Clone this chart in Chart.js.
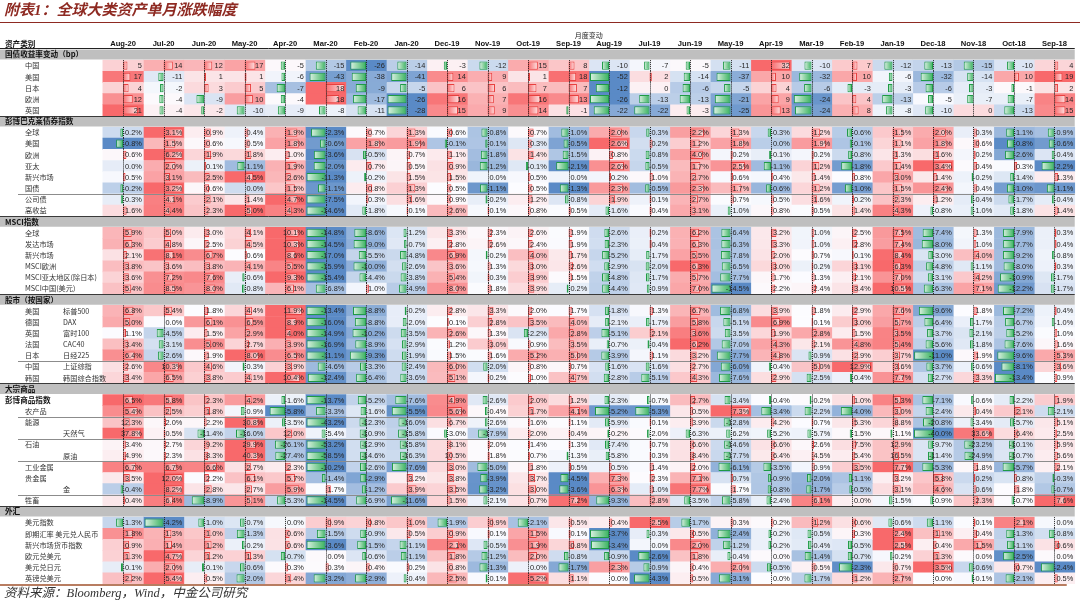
<!DOCTYPE html>
<html>
<head>
<meta charset="utf-8">
<script src="https://cdn.jsdelivr.net/npm/chart.js@4.4.1/dist/chart.umd.min.js"></script>
<style>
html,body{margin:0;padding:0;background:#fff;}
#wrap{width:1080px;height:603px;position:relative;overflow:hidden;}
</style>
</head>
<body>
<div id="wrap"><canvas id="c" width="1080" height="603"></canvas></div>
<script>
// ---------- column (month) labels ----------
const months = ['Aug-20','Jul-20','Jun-20','May-20','Apr-20','Mar-20','Feb-20','Jan-20','Dec-19','Nov-19','Oct-19','Sep-19','Aug-19','Jul-19','Jun-19','May-19','Apr-19','Mar-19','Feb-19','Jan-19','Dec-18','Nov-18','Oct-18','Sep-18'];

// ---------- 国债收益率变动（bp） ----------
const yldCN = [5,14,12,17,-5,-15,-26,-14,-3,-12,15,8,-10,-7,-5,-11,32,-10,7,-12,-13,-15,-10,4];
const yldUS = [17,-11,1,1,-6,-43,-38,-41,14,9,1,18,-52,2,-14,-37,10,-32,10,-6,-32,-14,10,19];
const yldJP = [4,-2,3,5,-7,18,-9,-5,6,6,7,7,-12,0,-6,-5,4,-6,-3,-3,-6,-3,-1,2];
const yldEU = [12,-4,-9,10,-4,18,-17,-26,16,7,16,13,-26,-13,-13,-21,9,-24,4,-13,-5,-7,-7,14];
const yldUK = [21,-4,-2,-10,-9,-8,-11,-28,15,9,14,-1,-22,-22,-3,-25,13,-24,8,-8,-10,0,-13,15];

// ---------- 彭博巴克莱债券指数 (%) ----------
const bbgGlobal = [-0.2,3.1,0.9,0.4,1.9,-2.3,0.7,1.3,0.6,-0.8,0.7,-1.0,2.0,-0.3,2.2,1.3,-0.3,1.2,-0.6,1.5,2.0,0.3,-1.1,-0.9];
const bbgUS     = [-0.8,1.5,0.6,0.5,1.8,-0.6,1.8,1.9,-0.1,-0.1,0.3,-0.5,2.6,0.2,1.2,1.8,0.0,1.9,-0.1,1.1,1.8,0.6,-0.8,-0.6];
const bbgEU     = [0.6,6.2,1.9,1.8,1.0,-3.6,-0.5,0.7,1.1,-1.8,1.4,-1.5,0.8,-0.8,4.0,0.2,-0.1,0.2,-0.8,1.3,1.6,0.2,-2.6,-0.4];
const bbgAP     = [0.0,2.0,0.1,-1.1,1.9,-2.0,0.7,0.5,0.9,-1.2,-0.1,-2.1,2.6,-0.5,1.7,2.5,-1.1,1.2,-1.8,1.4,3.4,0.4,0.3,-2.2];
const bbgEM     = [0.5,3.1,2.5,4.5,2.6,-11.3,-0.2,1.5,1.5,0.0,0.5,0.0,0.2,1.0,2.7,0.6,0.4,1.4,0.8,3.0,1.4,-0.2,-1.4,1.3];
const bbgGov    = [-0.2,3.2,0.6,0.0,1.5,-1.1,0.8,1.3,0.5,-1.1,0.5,-1.3,2.3,-0.5,2.3,1.7,-0.6,1.2,-1.0,1.5,2.4,0.4,-1.0,-1.1];
const bbgCorp   = [-0.3,4.1,2.1,1.4,4.7,-7.5,0.3,1.6,0.9,-0.2,1.2,-0.8,1.9,0.1,2.7,0.7,0.5,1.6,0.2,2.3,1.2,-0.4,-1.7,-0.4];
const bbgHY     = [1.6,4.4,2.3,5.0,4.3,-14.6,-1.8,0.1,2.6,0.1,0.8,0.5,-1.6,0.4,3.1,-1.0,0.8,0.5,1.4,4.3,-0.8,-1.0,-1.8,1.4];

// ---------- MSCI指数 (%) ----------
const msciACWI = [5.9,5.0,3.0,4.1,10.1,-14.8,-8.6,-1.2,3.3,2.3,2.6,1.9,-2.6,0.2,6.2,-6.4,3.2,1.0,2.5,7.5,-7.4,1.3,-7.9,0.3];
const msciDM   = [6.3,4.8,2.5,4.5,10.3,-14.5,-9.0,-0.7,2.8,2.6,2.4,1.9,-2.3,0.4,6.3,-6.3,3.3,1.0,2.8,7.4,-8.0,1.0,-7.7,0.4];
const msciEM   = [2.1,8.1,6.7,0.6,8.6,-17.0,-5.5,-4.8,6.9,-0.2,4.0,1.7,-5.2,-1.7,5.5,-7.8,2.0,0.7,0.1,8.4,-3.0,4.0,-9.2,-0.8];
const msciEU   = [3.8,3.6,3.8,4.1,5.5,-15.9,-10.0,-2.6,3.6,1.3,3.0,2.6,-2.9,-2.0,6.3,-6.5,3.0,0.2,3.1,6.3,-4.8,-1.1,-8.0,0.3];
const msciAPxJ = [3.6,7.2,7.6,-0.6,9.3,-15.4,-4.4,-3.8,5.4,0.3,3.9,1.5,-4.8,-1.7,5.7,-7.7,1.7,1.3,2.1,7.0,-3.1,4.2,-10.9,-1.7];
const msciCN   = [5.4,8.5,8.0,-0.8,6.1,-6.8,1.0,-4.9,8.0,1.8,3.9,-0.2,-4.4,-0.9,7.0,-14.5,2.2,2.4,3.4,10.5,-6.3,7.1,-12.2,-1.7];

// ---------- 股市（按国家） (%) ----------
const spx    = [6.8,5.4,1.8,4.4,11.9,-13.4,-8.8,-0.2,2.8,3.3,2.0,1.7,-1.8,1.3,6.7,-6.8,3.9,1.8,2.9,7.6,-9.6,1.8,-7.2,0.4];
const dax    = [5.0,0.0,6.1,6.5,8.9,-16.0,-8.8,-2.0,0.1,2.8,3.5,4.0,-2.1,-1.7,5.8,-5.1,6.9,0.1,3.0,5.7,-6.4,-1.7,-6.7,-1.0];
const ftse   = [1.1,-4.5,1.5,2.9,4.0,-14.9,-10.2,-3.5,2.6,1.3,-2.2,2.8,-5.1,2.1,3.6,-3.5,1.9,2.8,1.5,3.5,-3.7,-2.1,-5.2,1.0];
const cac    = [3.4,-3.1,5.0,2.7,3.9,-16.9,-8.9,-2.9,1.2,3.0,0.9,3.5,-0.7,-0.4,6.2,-7.0,4.3,2.1,4.8,5.4,-5.6,-1.8,-7.6,1.6];
const nikkei = [6.4,-2.6,1.9,8.0,6.5,-11.1,-9.3,-1.9,1.5,1.6,5.2,5.0,-3.9,1.1,3.2,-7.7,4.8,-0.9,2.9,3.7,-11.0,1.9,-9.6,5.3];
const shcomp = [2.6,10.3,4.6,-0.3,3.9,-4.6,-3.3,-2.4,6.0,-2.0,0.8,0.7,-1.6,-1.6,2.7,-6.0,-0.4,5.0,12.9,3.6,-3.7,-0.6,-8.1,3.6];
const kospi  = [3.4,6.5,3.8,4.1,10.4,-12.4,-6.4,-3.6,5.1,0.2,1.0,4.7,-2.8,-5.1,4.3,-7.6,2.9,-2.5,-0.4,7.7,-2.7,3.3,-13.4,0.9];

// ---------- 大宗商品 (%) ----------
const bcom      = [6.5,5.8,2.3,4.2,-1.6,-13.7,-5.2,-7.6,4.9,-2.6,2.0,1.2,-2.3,-0.7,2.7,-3.4,-0.4,-0.2,1.0,5.3,-7.1,-0.6,-2.2,1.9];
const agri      = [5.4,2.5,1.8,-0.9,-5.8,-3.3,-1.6,-5.5,5.6,-0.4,1.7,4.1,-5.2,-5.3,0.5,7.3,-3.4,-2.2,-4.0,3.0,-2.4,0.4,2.1,-2.1];
const energy    = [12.3,2.0,2.2,30.8,-3.5,-43.2,-12.3,-16.0,6.7,-2.6,1.6,1.1,-5.9,0.1,3.9,-12.8,4.2,0.7,5.3,8.8,-20.8,-3.4,-5.7,5.1];
const natgas    = [37.8,0.5,-11.4,-16.0,12.0,-5.4,-10.9,-15.8,-3.0,-17.9,2.0,0.4,-0.2,-2.0,-6.3,-6.2,-5.2,-5.7,-1.5,-1.1,-40.0,33.6,6.4,2.5];
const petroleum = [3.4,2.7,9.2,29.9,-26.1,-53.2,-12.9,-15.8,8.1,2.0,1.4,1.3,-7.4,0.7,6.6,-14.6,6.6,2.6,7.5,12.9,-9.7,-23.2,-10.1,5.9];
const crude     = [4.9,2.3,8.3,40.3,-27.4,-58.5,-14.6,-16.3,10.5,1.8,0.7,-1.3,-5.8,0.3,8.4,-17.7,6.4,4.5,5.4,16.5,-11.4,-24.9,-10.7,5.6];
const indMetals = [6.7,6.7,6.6,2.7,2.3,-10.2,-2.6,-7.6,3.0,-5.0,1.8,0.5,0.5,1.4,2.0,-6.1,-3.5,0.9,3.5,7.7,-5.3,1.8,-5.7,2.1];
const precious  = [3.5,12.0,2.2,6.1,5.7,-1.4,-2.9,3.2,3.8,-3.9,3.7,-4.5,7.3,2.3,7.1,0.7,-0.9,-2.0,-1.1,3.2,5.8,0.2,0.8,-0.3];
const gold      = [-0.4,8.2,2.8,2.7,5.9,1.7,-1.2,3.9,3.5,-3.2,3.0,-3.6,6.3,1.0,7.7,1.7,-0.8,-1.7,-0.5,3.1,4.6,0.6,1.8,-0.7];
const livestock = [0.4,6.4,-8.9,5.1,-5.3,-14.5,-6.9,-11.6,1.5,-2.1,0.7,7.2,-9.3,2.8,-3.5,-5.8,-2.4,6.1,0.0,-1.5,-0.9,2.3,-0.7,7.6];

// ---------- 外汇 (%) ----------
const dxy  = [-1.3,-4.2,-1.0,-0.7,0.0,0.9,0.8,1.0,-1.9,0.9,-2.1,0.5,0.4,2.5,-1.7,0.3,0.2,1.2,0.6,-0.6,-1.1,0.1,2.1,0.0];
const cny  = [1.8,1.3,1.0,-1.3,0.6,-1.5,-0.9,0.5,0.9,0.1,1.5,0.1,-3.7,-0.3,0.5,-2.4,-0.2,-0.5,0.3,2.4,1.1,0.4,-1.3,-0.8];
const emfx = [0.9,1.4,1.2,-0.2,0.6,-3.6,-1.5,-1.1,2.1,-0.5,1.9,0.8,-3.4,0.0,2.0,-1.2,-0.2,-0.4,-0.5,2.5,0.4,1.5,-1.1,0.6];
const eur  = [1.3,4.7,1.2,1.3,-0.7,0.0,-0.6,-1.1,1.8,-1.2,2.0,-0.8,-0.9,-2.6,1.8,-0.4,0.0,-1.4,-0.7,-0.2,1.3,0.0,-2.5,0.0];
const jpy  = [-0.1,2.0,-0.1,-0.6,0.3,0.3,0.4,0.2,0.8,-1.3,0.0,-1.7,2.3,-0.9,0.4,2.0,-0.5,0.5,-2.3,0.7,3.5,-0.6,0.7,-2.4];
const gbp  = [2.2,5.4,0.5,-2.0,1.4,-3.2,-2.9,-0.4,2.5,-0.1,5.2,1.1,0.0,-4.3,0.5,-3.1,0.0,-1.7,1.2,2.7,0.0,-0.1,-2.1,0.5];

// ---------- row table (labels + series) ----------
const rows = [
  {head:'国债收益率变动（bp）'},
  {a:'中国', v:yldCN, bp:true}, {a:'美国', v:yldUS, bp:true}, {a:'日本', v:yldJP, bp:true},
  {a:'欧洲', v:yldEU, bp:true}, {a:'英国', v:yldUK, bp:true},
  {head:'彭博巴克莱债券指数'},
  {a:'全球', v:bbgGlobal}, {a:'美国', v:bbgUS}, {a:'欧洲', v:bbgEU}, {a:'亚太', v:bbgAP},
  {a:'新兴市场', v:bbgEM}, {a:'国债', v:bbgGov}, {a:'公司债', v:bbgCorp, rule:true}, {a:'高收益', v:bbgHY},
  {head:'MSCI指数'},
  {a:'全球', v:msciACWI}, {a:'发达市场', v:msciDM}, {a:'新兴市场', v:msciEM},
  {a:'MSCI欧洲', v:msciEU}, {a:'MSCI亚太地区(除日本)', v:msciAPxJ}, {a:'MSCI中国(美元)', v:msciCN},
  {head:'股市（按国家）'},
  {a:'美国', b:'标普500', v:spx}, {a:'德国', b:'DAX', v:dax}, {a:'英国', b:'富时100', v:ftse},
  {a:'法国', b:'CAC40', v:cac}, {a:'日本', b:'日经225', v:nikkei},
  {a:'中国', b:'上证综指', v:shcomp, rule:true}, {a:'韩国', b:'韩国综合指数', v:kospi},
  {head:'大宗商品'},
  {g:'彭博商品指数', v:bcom}, {a:'农产品', v:agri}, {a:'能源', v:energy, rule:true},
  {b:'天然气', v:natgas}, {a:'石油', v:petroleum, rule:true}, {b:'原油', v:crude},
  {a:'工业金属', v:indMetals, rule:true}, {a:'贵金属', v:precious}, {b:'金', v:gold},
  {a:'牲畜', v:livestock, rule:true},
  {head:'外汇'},
  {a:'美元指数', v:dxy}, {a:'即期汇率 美元兑人民币', v:cny}, {a:'新兴市场货币指数', v:emfx},
  {a:'欧元兑美元', v:eur}, {a:'美元兑日元', v:jpy}, {a:'英镑兑美元', v:gbp}
];

// ---------- styling helpers ----------
const X_MIN = -2.54, X_MAX = 24.13;
const LOW = [90,138,198], MID = [252,252,255], HIGH = [248,105,107];
function mix(c1, c2, t){
  t = Math.max(0, Math.min(1, t));
  const c = c1.map((v,i) => Math.round(v + (c2[i]-v)*t));
  return `rgb(${c[0]},${c[1]},${c[2]})`;
}
function stats(v){
  const s = [...v].sort((a,b)=>a-b), n = s.length;
  const med = n % 2 ? s[(n-1)/2] : (s[n/2-1] + s[n/2]) / 2;
  return {min:s[0], max:s[n-1], med, absMax: Math.max(Math.abs(s[0]), Math.abs(s[n-1])) || 1};
}
rows.forEach(r => { if (r.v) r.st = stats(r.v); });
function heat(r, v){
  const st = r.st;
  if (v >= st.med) return mix(MID, HIGH, st.max > st.med ? (v - st.med)/(st.max - st.med) : 0);
  return mix(MID, LOW, (st.med - v)/(st.med - st.min));
}
function barLen(r, v){
  return Math.sign(v) * (0.04 + 0.43 * Math.abs(v) / r.st.absMax);
}
function fmt(r, v){ return r.bp ? String(v) : v.toFixed(1) + '%'; }

const yLabels = rows.map((r,i) => 'r' + i);
const datasets = [];

// section bands
datasets.push({
  data: rows.map(r => r.head ? [X_MIN, 24] : null),
  backgroundColor: '#BFBFBF', borderWidth: 0,
  barPercentage: 0.9, categoryPercentage: 1, grouped: false, order: 1
});

for (let j = 0; j < months.length; j++) {
  // heat-map cells
  datasets.push({
    data: rows.map(r => r.v ? [j, j + 1] : null),
    backgroundColor: rows.map(r => r.v ? heat(r, r.v[j]) : 'rgba(0,0,0,0)'),
    borderWidth: 0,
    barPercentage: 1, categoryPercentage: 1, grouped: false, order: 2
  });
  // data bars from the mid-cell axis
  datasets.push({
    data: rows.map(r => (r.v && r.v[j] !== 0) ? [j + 0.5, j + 0.5 + barLen(r, r.v[j])] : null),
    backgroundColor: (ctx) => {
      const raw = ctx.raw;
      if (!raw || !Array.isArray(raw)) return 'rgba(0,0,0,0)';
      const xs = ctx.chart.scales.x;
      const pos = raw[1] > raw[0];
      if (!xs) return pos ? '#F8A0A0' : '#8FD3A3';
      const a = xs.getPixelForValue(raw[0]), b = xs.getPixelForValue(raw[1]);
      if (!isFinite(a) || !isFinite(b) || a === b) return pos ? '#F8A0A0' : '#8FD3A3';
      const g = ctx.chart.ctx.createLinearGradient(a, 0, b, 0);
      if (pos) { g.addColorStop(0, '#F86B6E'); g.addColorStop(1, '#FDE3E3'); }
      else { g.addColorStop(0, '#38B25E'); g.addColorStop(1, '#DDF2E3'); }
      return g;
    },
    borderColor: rows.map(r => (r.v && r.v[j] > 0) ? '#E8403F' : '#1E9A45'),
    borderWidth: 1, borderSkipped: false,
    barPercentage: 0.74, categoryPercentage: 1, grouped: false, order: 0
  });
}

const FONT_NUM = '7.4px "Liberation Sans", Arial, sans-serif';
const FONT_HDR = 'bold 7.6px "Liberation Sans", Arial, sans-serif';
const FONT_CJK = '7.2px "Noto Sans CJK SC", sans-serif';
const FONT_CJK_B = 'bold 7.6px "Noto Sans CJK SC", sans-serif';

const tablePlugin = {
  id: 'tableText',
  beforeDraw(chart){
    const c = chart.ctx;
    c.save(); c.fillStyle = '#fff'; c.fillRect(0, 0, chart.width, chart.height); c.restore();
  },
  afterDatasetsDraw(chart){
    const c = chart.ctx, xs = chart.scales.x, ys = chart.scales.y;
    const rowH = ys.getPixelForValue(1) - ys.getPixelForValue(0);
    const right = xs.getPixelForValue(24);
    c.save();
    rows.forEach((r, i) => {
      const yc = ys.getPixelForValue(i);
      const top = yc - rowH/2, bot = yc + rowH/2;
      c.textBaseline = 'middle';
      if (r.head) {
        if (i > 0) {
          c.strokeStyle = '#3A3A3A'; c.lineWidth = 1;
          c.beginPath(); c.moveTo(0, Math.round(top) + 0.5); c.lineTo(right, Math.round(top) + 0.5); c.stroke();
        }
        c.fillStyle = '#111'; c.font = FONT_CJK_B; c.textAlign = 'left';
        c.fillText(r.head, 5, yc);
        return;
      }
      if (r.rule) {
        c.strokeStyle = '#8C8C8C'; c.lineWidth = 1;
        c.beginPath(); c.moveTo(18, Math.round(top) + 0.5); c.lineTo(right, Math.round(top) + 0.5); c.stroke();
      }
      c.textAlign = 'left'; c.fillStyle = '#333';
      if (r.g) { c.font = FONT_CJK_B; c.fillStyle = '#111'; c.fillText(r.g, 5, yc); c.fillStyle = '#333'; }
      c.font = FONT_CJK;
      if (r.a) c.fillText(r.a, 25, yc);
      if (r.b) c.fillText(r.b, 63, yc);
      // dotted axes
      c.strokeStyle = '#222'; c.lineWidth = 1; c.setLineDash([1, 1]);
      for (let j = 0; j < months.length; j++) {
        const ax = Math.round(xs.getPixelForValue(j + 0.5)) + 0.5;
        c.beginPath(); c.moveTo(ax, top); c.lineTo(ax, bot); c.stroke();
      }
      c.setLineDash([]);
      // values
      c.font = FONT_NUM; c.textAlign = 'right'; c.fillStyle = '#262626';
      for (let j = 0; j < months.length; j++) {
        c.fillText(fmt(r, r.v[j]), xs.getPixelForValue(j + 1) - 1.5, yc + 0.5);
      }
    });
    c.restore();
  },
  afterDraw(chart){
    const c = chart.ctx, xs = chart.scales.x;
    const area = chart.chartArea;
    const right = xs.getPixelForValue(24);
    c.save();
    // title
    c.textBaseline = 'middle'; c.textAlign = 'left';
    c.fillStyle = '#8E2A22';
    c.font = 'italic bold 15px "Liberation Serif", "Noto Sans CJK SC", serif';
    c.fillText('附表1：全球大类资产单月涨跌幅度', 4, 11);
    c.strokeStyle = '#8E2A22'; c.lineWidth = 1;
    c.beginPath(); c.moveTo(0, 22.5); c.lineTo(chart.width, 22.5); c.stroke();
    // column group header
    c.fillStyle = '#222'; c.font = '7px "Noto Sans CJK SC", sans-serif'; c.textAlign = 'center';
    c.fillText('月度变动', xs.getPixelForValue(12), 35);
    // header row
    c.font = FONT_CJK_B; c.textAlign = 'left'; c.fillStyle = '#111';
    c.fillText('资产类别', 5, 44);
    c.font = FONT_HDR; c.textAlign = 'center';
    months.forEach((m, j) => c.fillText(m, xs.getPixelForValue(j + 0.5), 44));
    c.strokeStyle = '#222'; c.lineWidth = 1;
    c.beginPath(); c.moveTo(0, Math.round(area.top) - 0.5); c.lineTo(right, Math.round(area.top) - 0.5); c.stroke();
    // bottom rule
    c.strokeStyle = '#A0522D'; c.lineWidth = 1.5;
    c.beginPath(); c.moveTo(0, area.bottom + 1); c.lineTo(right - 8, area.bottom + 1); c.stroke();
    // source
    c.fillStyle = '#333'; c.textAlign = 'left';
    c.font = 'italic 12.5px "Liberation Serif", "Noto Sans CJK SC", serif';
    c.fillText('资料来源：Bloomberg，Wind，中金公司研究', 4, 594);
    c.restore();
  }
};

new Chart(document.getElementById('c'), {
  type: 'bar',
  data: { labels: yLabels, datasets },
  options: {
    indexAxis: 'y',
    responsive: false,
    animation: false,
    events: [],
    layout: { padding: { top: 49, bottom: 19, left: 0, right: 0 } },
    plugins: { legend: { display: false }, tooltip: { enabled: false }, title: { display: false } },
    scales: {
      x: { type: 'linear', min: X_MIN, max: X_MAX, display: false },
      y: { type: 'category', labels: yLabels, display: false, offset: true, grid: { display: false } }
    }
  },
  plugins: [tablePlugin]
});
</script>
</body>
</html>
